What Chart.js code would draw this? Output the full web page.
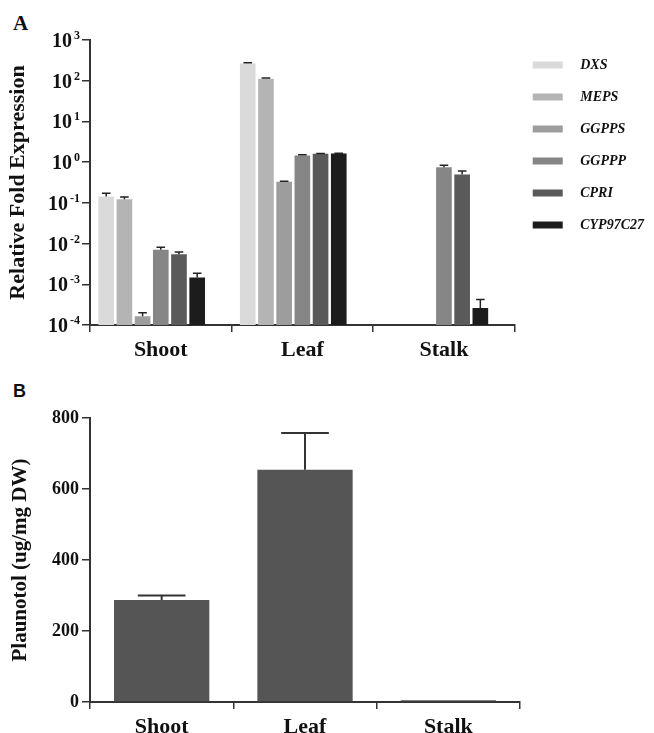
<!DOCTYPE html>
<html>
<head>
<meta charset="utf-8">
<script src="https://cdn.jsdelivr.net/npm/chart.js@4.4.1/dist/chart.umd.min.js"></script>
<style>
  html, body { margin: 0; padding: 0; background: #fff; overflow: hidden; }
  body { width: 654px; height: 733px; position: relative; }
  .panel-label { position: absolute; font-weight: bold; color: #111; }
  #labelA { left: 13px; top: 11px; font: bold 21px "Liberation Serif", serif; }
  #labelB { left: 13px; top: 381px; font: bold 18px "Liberation Sans", sans-serif; }
  #wrapA { position: absolute; left: 0; top: 0; width: 654px; height: 365px; }
  #wrapB { position: absolute; left: 0; top: 370px; width: 654px; height: 370px; }
</style>
</head>
<body>
<div id="labelA" class="panel-label">A</div>
<div id="labelB" class="panel-label">B</div>
<div id="wrapA"><canvas id="chartA"></canvas></div>
<div id="wrapB"><canvas id="chartB"></canvas></div>

<script>
// ---- data: panel A (relative fold expression, log scale) ----
const tissues = ['Shoot', 'Leaf', 'Stalk'];
const genes = ['DXS', 'MEPS', 'GGPPS', 'GGPPP', 'CPRI', 'CYP97C27'];
const geneColors = ['#dadada', '#b4b4b4', '#9d9d9d', '#868686', '#5a5a5a', '#1c1c1c'];

const dxs      = [0.144, 263, null];
const meps     = [0.122, 112, null];
const ggpps    = [0.000165, 0.33, null];
const ggppp    = [0.0071, 1.46, 0.75];
const cpri     = [0.0055, 1.6, 0.50];
const cyp97c27 = [0.00146, 1.63, 0.00026];

const dxsErr      = [0.027, 14, null];
const mepsErr     = [0.017, 4, null];
const ggppsErr    = [0.000035, 0.01, null];
const ggpppErr    = [0.001, 0.05, 0.09];
const cpriErr     = [0.0007, 0.04, 0.11];
const cyp97c27Err = [0.0004, 0.02, 0.00016];

const logExponents = [3, 2, 1, 0, -1, -2, -3, -4];

// ---- data: panel B (plaunotol content) ----
const plaunotol = [287, 654, 5];
const plaunotolErr = [13, 104, 0];
const plaunotolTicks = [0, 200, 400, 600, 800];

const serif = '"Liberation Serif", "Times New Roman", serif';

// draw upper error bars with caps
const errorBarPlugin = {
  id: 'errorBars',
  afterDatasetsDraw(chart, args, opts) {
    const ctx = chart.ctx;
    const yScale = chart.scales.y;
    ctx.save();
    ctx.strokeStyle = opts.color || '#222';
    ctx.lineWidth = opts.lineWidth || 1.5;
    chart.data.datasets.forEach((ds, i) => {
      if (!ds.errors) return;
      const meta = chart.getDatasetMeta(i);
      meta.data.forEach((bar, j) => {
        const v = ds.data[j];
        const e = ds.errors[j];
        if (v == null || !e) return;
        const yTop = yScale.getPixelForValue(v + e);
        const half = bar.width * (opts.capRatio || 0.5) / 2;
        ctx.beginPath();
        ctx.moveTo(bar.x, bar.y);
        ctx.lineTo(bar.x, yTop);
        ctx.moveTo(bar.x - half, yTop);
        ctx.lineTo(bar.x + half, yTop);
        ctx.stroke();
      });
    });
    ctx.restore();
  }
};

// 10^n tick labels with raised exponents
const expLabelPlugin = {
  id: 'expLabels',
  afterDraw(chart) {
    const y = chart.scales.y;
    const ctx = chart.ctx;
    ctx.save();
    ctx.fillStyle = '#111';
    ctx.textAlign = 'right';
    ctx.textBaseline = 'alphabetic';
    const right = y.right - 10;
    logExponents.forEach(e => {
      const py = y.getPixelForValue(Math.pow(10, e));
      const sup = e < 0 ? '-' + (-e) : String(e);
      ctx.font = 'bold 12px ' + serif;
      const supW = ctx.measureText(sup).width;
      ctx.fillText(sup, right, py - 1);
      ctx.font = 'bold 20px ' + serif;
      ctx.fillText('10', right - supW - 2, py + 7);
    });
    ctx.restore();
  }
};

const seriesA = [dxs, meps, ggpps, ggppp, cpri, cyp97c27];
const errorsA = [dxsErr, mepsErr, ggppsErr, ggpppErr, cpriErr, cyp97c27Err];

const datasetsA = genes.map((g, i) => ({
  label: g,
  data: seriesA[i],
  errors: errorsA[i],
  backgroundColor: geneColors[i],
  borderWidth: 0
}));
// empty slot that GraphPad left in each group
datasetsA.push({ label: '', data: [null, null, null], backgroundColor: 'rgba(0,0,0,0)' });

new Chart(document.getElementById('chartA'), {
  type: 'bar',
  data: { labels: tissues, datasets: datasetsA },
  plugins: [errorBarPlugin, expLabelPlugin],
  options: {
    responsive: true,
    maintainAspectRatio: false,
    animation: false,
    categoryPercentage: 0.9,
    barPercentage: 0.86,
    layout: { padding: { top: 40, right: 0, bottom: 0, left: 0 } },
    plugins: {
      tooltip: { enabled: false },
      errorBars: { color: '#222', lineWidth: 1.5, capRatio: 0.55 },
      legend: {
        position: 'right',
        align: 'start',
        labels: {
          boxWidth: 30,
          boxHeight: 7,
          padding: 18,
          color: '#111',
          font: { family: serif, size: 14, style: 'italic', weight: 'bold' },
          filter: item => item.text.trim() !== '',
          generateLabels: chart => {
            const items = Chart.defaults.plugins.legend.labels.generateLabels(chart);
            // wider gap between swatch and gene name, as in the figure
            items.forEach(it => { it.text = '   ' + it.text; });
            return items;
          }
        }
      }
    },
    scales: {
      x: {
        grid: { display: true, drawOnChartArea: false, tickLength: 7, color: '#333', lineWidth: 1.5 },
        border: { color: '#333', width: 2 },
        ticks: { color: '#111', padding: 5, font: { family: serif, size: 22, weight: 'bold' } },
        afterFit: scale => { scale.height = 40; }
      },
      y: {
        type: 'logarithmic',
        min: 1e-4,
        max: 1e3,
        afterBuildTicks: scale => {
          scale.ticks = logExponents.map(e => ({ value: Math.pow(10, e) }));
        },
        afterFit: scale => { scale.width = 90; },
        grid: { display: true, drawOnChartArea: false, tickLength: 8, color: '#333', lineWidth: 1.5 },
        border: { color: '#333', width: 2 },
        ticks: { display: false },
        title: {
          display: true,
          text: 'Relative Fold Expression',
          color: '#111',
          padding: { top: 5, bottom: 0 },
          font: { family: serif, size: 22, weight: 'bold' }
        }
      }
    }
  }
});

new Chart(document.getElementById('chartB'), {
  type: 'bar',
  data: {
    labels: tissues,
    datasets: [{
      label: 'Plaunotol',
      data: plaunotol,
      errors: plaunotolErr,
      backgroundColor: '#555555',
      borderWidth: 0
    }]
  },
  plugins: [errorBarPlugin],
  options: {
    responsive: true,
    maintainAspectRatio: false,
    animation: false,
    categoryPercentage: 1,
    barPercentage: 0.665,
    layout: { padding: { top: 48, right: 134, bottom: 0, left: 0 } },
    plugins: {
      tooltip: { enabled: false },
      legend: { display: false },
      errorBars: { color: '#333', lineWidth: 2, capRatio: 0.5 }
    },
    scales: {
      x: {
        grid: { display: true, drawOnChartArea: false, tickLength: 7, color: '#333', lineWidth: 1.5 },
        border: { color: '#333', width: 2 },
        ticks: { color: '#111', padding: 5, font: { family: serif, size: 22, weight: 'bold' } },
        afterFit: scale => { scale.height = 38; }
      },
      y: {
        min: 0,
        max: 800,
        afterBuildTicks: scale => {
          scale.ticks = plaunotolTicks.map(v => ({ value: v }));
        },
        afterFit: scale => { scale.width = 90; },
        grid: { display: true, drawOnChartArea: false, tickLength: 8, color: '#333', lineWidth: 1.5 },
        border: { color: '#333', width: 2 },
        ticks: { color: '#111', padding: 3, font: { family: serif, size: 18, weight: 'bold' } },
        title: {
          display: true,
          text: 'Plaunotol (ug/mg DW)',
          color: '#111',
          padding: { top: 8, bottom: 0 },
          font: { family: serif, size: 21, weight: 'bold' }
        }
      }
    }
  }
});
</script>
</body>
</html>
